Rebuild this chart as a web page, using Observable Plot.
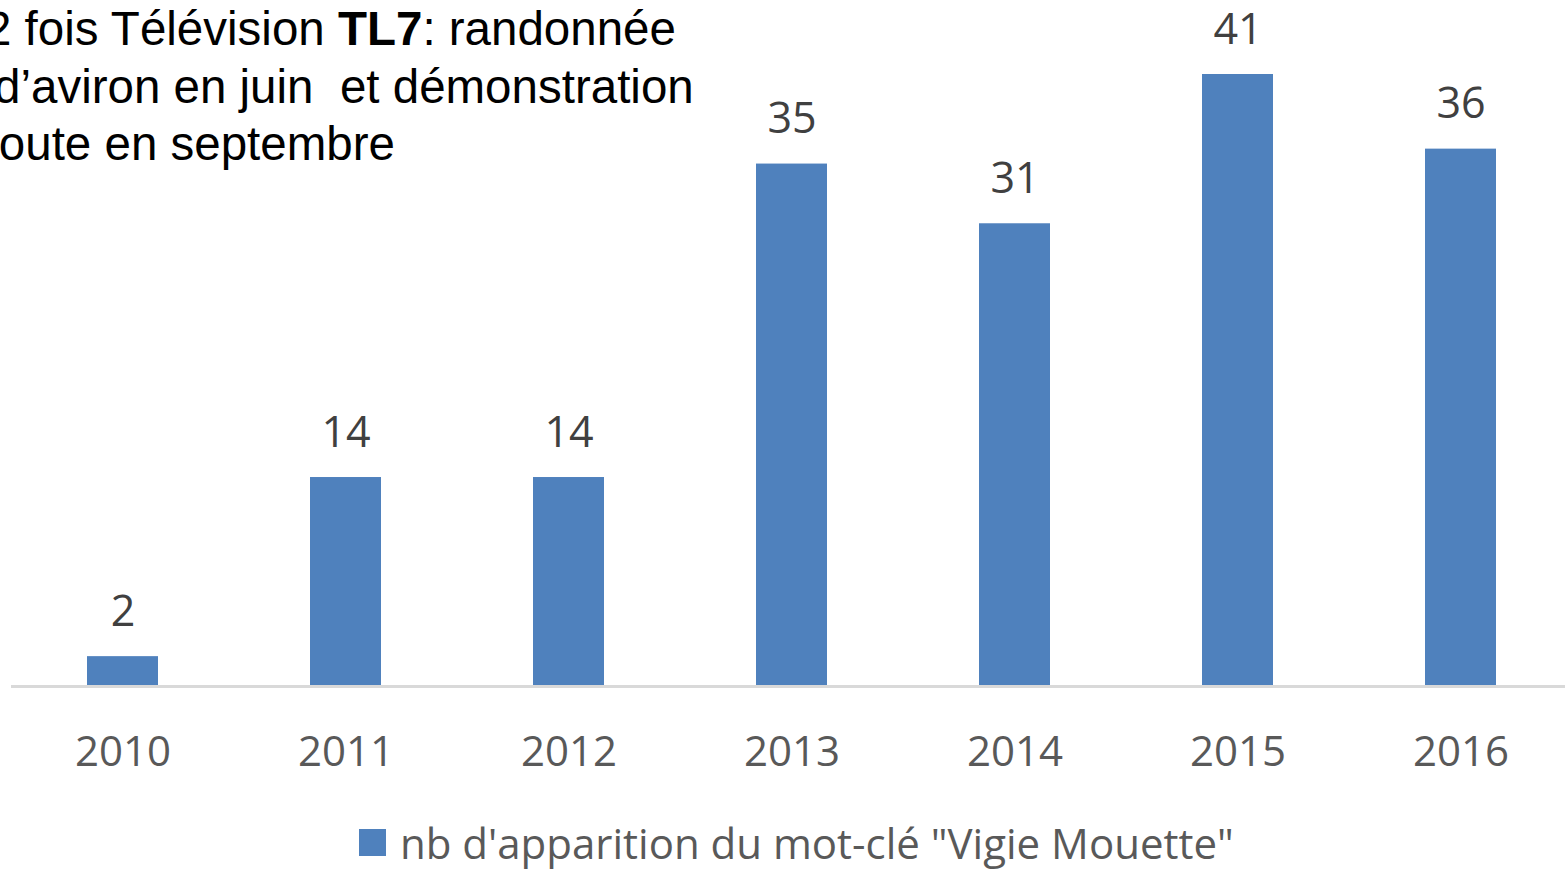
<!DOCTYPE html>
<html>
<head>
<meta charset="utf-8">
<script src="https://cdn.jsdelivr.net/npm/d3@7"></script>
<script src="https://cdn.jsdelivr.net/npm/@observablehq/plot@0.6"></script>
<style>
  html, body { margin: 0; padding: 0; background: #fff; width: 1565px; height: 870px; overflow: hidden; }
  #wrap { position: relative; width: 1565px; height: 870px; overflow: hidden; }
  #chart { position: absolute; left: 0; top: 0; }
  .note { position: absolute; font-family: "Liberation Sans", Arial, sans-serif;
          font-size: 47.5px; line-height: 48px; color: #000; white-space: pre; }
  #legend { position: absolute; left: 359px; top: 814px; display: flex; align-items: center;
            font-family: "Open Sans", sans-serif; font-size: 42px; color: #595959; white-space: pre; }
  #legend .sw { width: 27px; height: 27px; background: #4f81bd; margin-right: 14px; }
</style>
</head>
<body>
<div id="wrap">
  <div id="chart"></div>
  <div class="note" style="left:-15px; top:5px;">2 fois Télévision <b>TL7</b>: randonnée</div>
  <div class="note" style="left:-6px; top:63px;">d’aviron en juin  et démonstration</div>
  <div class="note" style="left:-17px; top:120px;">route en septembre</div>
  <div id="legend"><span class="sw"></span><span id="legtext"></span></div>
</div>
<script>
const years = ["2010", "2011", "2012", "2013", "2014", "2015", "2016"];
const counts = [2, 14, 14, 35, 31, 41, 36];
const seriesName = "nb d'apparition du mot-clé \"Vigie Mouette\"";

const data = years.map((y, i) => ({year: y, value: counts[i]}));
document.getElementById("legtext").textContent = seriesName;

const chart = Plot.plot({
  width: 1565,
  height: 800,
  marginTop: 74,
  marginBottom: 114,
  marginLeft: 11,
  marginRight: 0,
  style: {fontFamily: "Open Sans, sans-serif", background: "transparent"},
  x: {domain: years, range: [11.5, 1572.5], paddingInner: 0.68, paddingOuter: 0.34, label: null},
  y: {domain: [0, 41], axis: null},
  marks: [
    Plot.barY(data, {x: "year", y: "value", fill: "#4f81bd"}),
    Plot.ruleY([0], {stroke: "#d9d9d9", strokeWidth: 3}),
    Plot.text(data, {x: "year", y: "value", text: d => String(d.value), fill: "#404040",
      fontSize: 43, lineAnchor: "bottom", dy: -31}),
    Plot.axisX({tickSize: 0, tickPadding: 50, fontSize: 42, color: "#595959", label: null})
  ]
});
document.getElementById("chart").appendChild(chart);
</script>
</body>
</html>
